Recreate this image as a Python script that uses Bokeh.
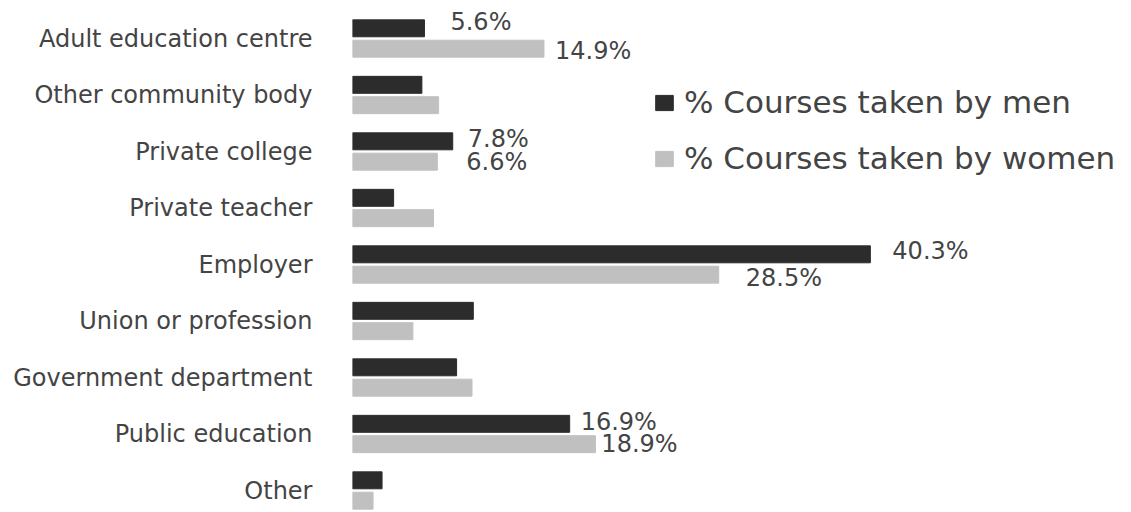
from bokeh.plotting import figure
from bokeh.models import ColumnDataSource, Range1d, FixedTicker, Legend, LegendItem
from bokeh.embed import file_html
from bokeh.resources import INLINE
from bokeh.core.properties import value

# Course providers, listed top to bottom
categories = [
    "Adult education centre",
    "Other community body",
    "Private college",
    "Private teacher",
    "Employer",
    "Union or profession",
    "Government department",
    "Public education",
    "Other",
]
men = [5.6, 5.4, 7.8, 3.2, 40.3, 9.4, 8.1, 16.9, 2.3]
women = [14.9, 6.7, 6.6, 6.3, 28.5, 4.7, 9.3, 18.9, 1.6]
series_names = ["% Courses taken by men", "% Courses taken by women"]
# providers whose bars carry a value label
labelled = ["Adult education centre", "Private college", "Employer", "Public education"]

# layout constants (pixels)
W, H = 1131, 512
LEFT = 352
PX_PER_PCT = 12.85
ROW = 56.5
FIRST_ROW_Y = 38
BAR_OFF = 0.18
BAR_H = 0.30

MEN_COLOR = "#2c2c2c"
WOMEN_COLOR = "#c0c0c0"
TEXT_COLOR = "#444444"
FONT = "DejaVu Sans"

x_end = (W - LEFT) / PX_PER_PCT
y_top = -FIRST_ROW_Y / ROW
y_bottom = y_top + H / ROW

p = figure(
    width=W, height=H,
    x_range=Range1d(0, x_end),
    y_range=Range1d(y_bottom, y_top),
    min_border_left=LEFT, min_border_right=0,
    min_border_top=0, min_border_bottom=0,
    output_backend="svg", toolbar_location=None,
)
p.outline_line_color = None
p.grid.visible = False
p.xaxis.visible = False
p.background_fill_color = "white"
p.border_fill_color = "white"

idx = list(range(len(categories)))

yax = p.yaxis[0]
yax.ticker = FixedTicker(ticks=idx)
yax.major_label_overrides = {i: c for i, c in zip(idx, categories)}
yax.major_tick_line_color = None
yax.minor_tick_line_color = None
yax.axis_line_color = None
yax.major_label_standoff = 34
yax.major_label_text_font = FONT
yax.major_label_text_font_size = "24px"
yax.major_label_text_color = TEXT_COLOR

src = ColumnDataSource(dict(
    y_men=[i - BAR_OFF for i in idx],
    y_women=[i + BAR_OFF for i in idx],
    men=men,
    women=women,
))

r_men = p.hbar(y="y_men", left=0, right="men", height=BAR_H, source=src,
               fill_color=MEN_COLOR, line_color=MEN_COLOR)
r_women = p.hbar(y="y_women", left=0, right="women", height=BAR_H, source=src,
                 fill_color=WOMEN_COLOR, line_color=WOMEN_COLOR)

# value labels at the bar ends
men_dx = {"Adult education centre": 26, "Private college": 15, "Employer": 22, "Public education": 11}
women_dx = {"Adult education centre": 11, "Private college": 29, "Employer": 27, "Public education": 6}
men_dy = {"Adult education centre": -6, "Private college": -2, "Employer": -3, "Public education": -2}
women_dy = {"Adult education centre": 2, "Private college": 0, "Employer": 3, "Public education": 0}

lab = dict(x=[], y=[], text=[], dx=[], dy=[])
for i, c in enumerate(categories):
    if c in labelled:
        lab["x"].append(men[i]); lab["y"].append(i - BAR_OFF)
        lab["text"].append(f"{men[i]:.1f}%"); lab["dx"].append(men_dx[c]); lab["dy"].append(men_dy[c])
        lab["x"].append(women[i]); lab["y"].append(i + BAR_OFF)
        lab["text"].append(f"{women[i]:.1f}%"); lab["dx"].append(women_dx[c]); lab["dy"].append(women_dy[c])

p.text(x="x", y="y", text="text", x_offset="dx", y_offset="dy",
       source=ColumnDataSource(lab),
       text_font=value(FONT), text_font_size="24px", text_color=TEXT_COLOR,
       text_baseline="middle", text_align="left")

legend = Legend(
    items=[LegendItem(label=series_names[0], renderers=[r_men]),
           LegendItem(label=series_names[1], renderers=[r_women])],
    location=(301, 336),
    orientation="vertical",
    glyph_width=22, glyph_height=19,
    label_text_font=FONT, label_text_font_size="31px",
    label_text_color=TEXT_COLOR,
    label_standoff=9,
    spacing=20,
    padding=0, margin=0,
    border_line_color=None,
    background_fill_alpha=0,
)
p.add_layout(legend)

open("out.html", "w").write(file_html(p, INLINE))
